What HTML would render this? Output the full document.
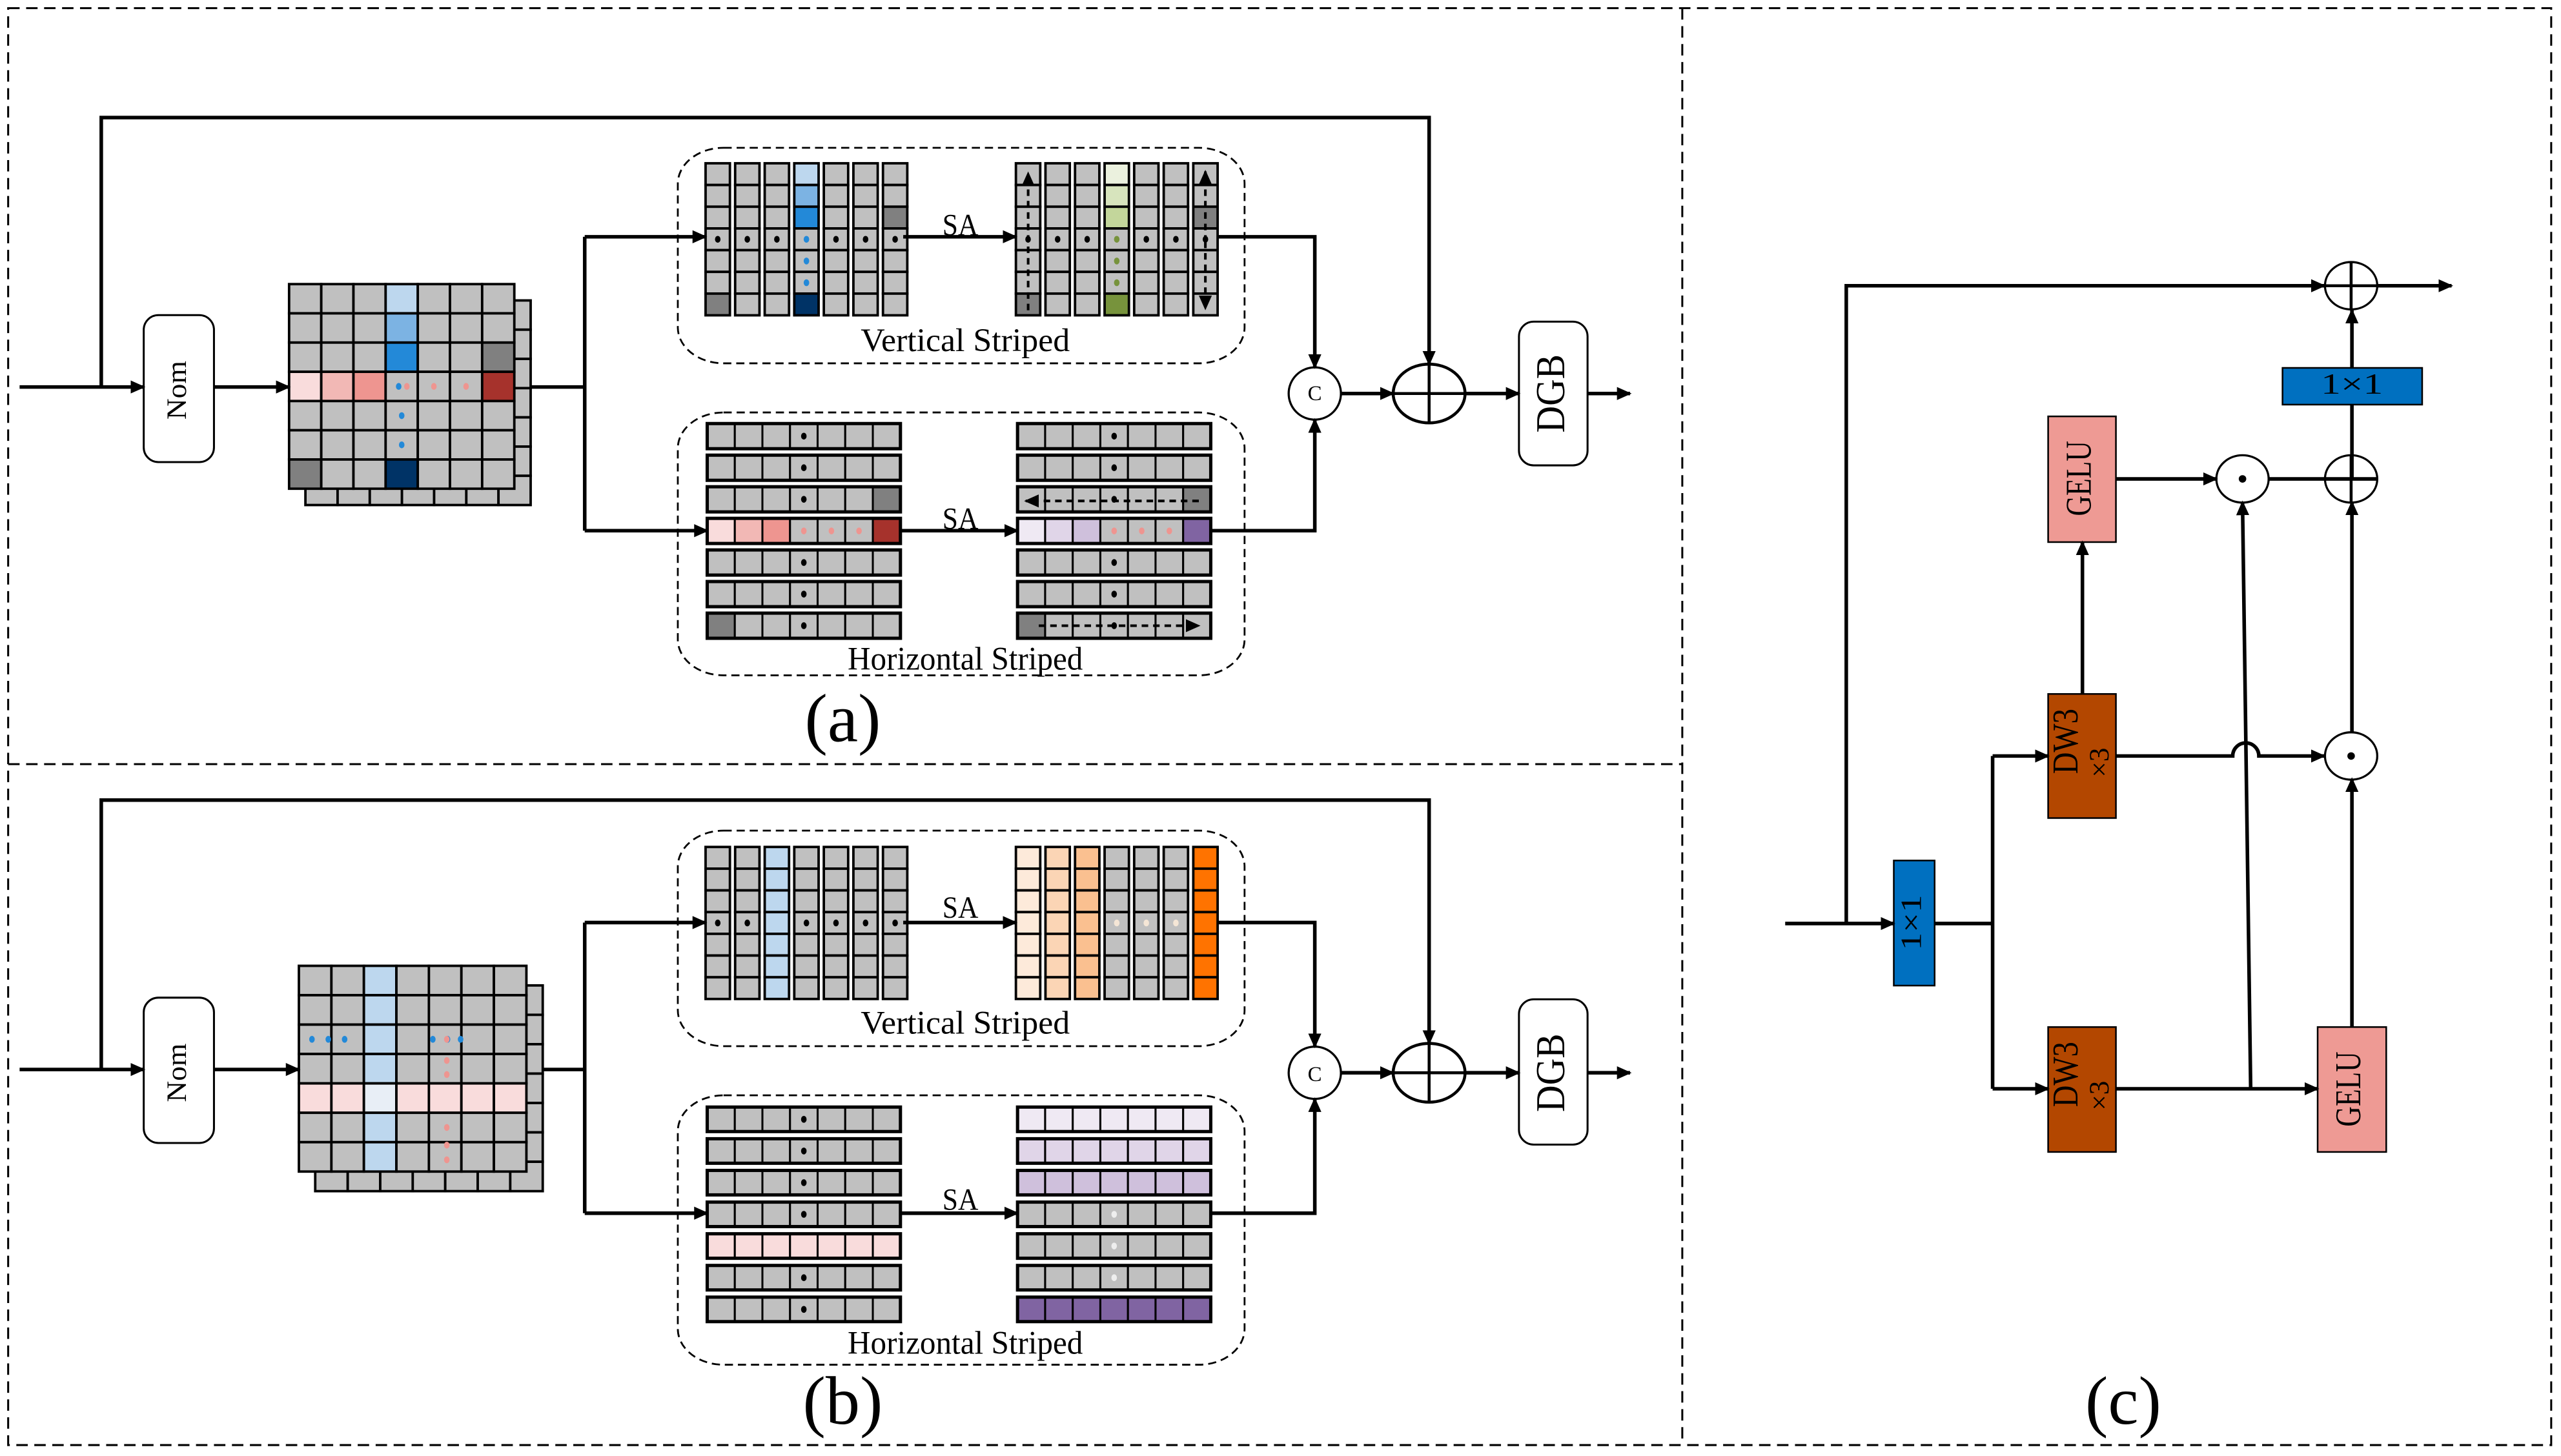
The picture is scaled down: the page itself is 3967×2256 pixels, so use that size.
<!DOCTYPE html>
<html><head><meta charset="utf-8"><style>
html,body{margin:0;padding:0;background:#fff;}
svg{display:block;}
text{font-family:"Liberation Serif",serif;fill:#000;}
</style></head><body>
<svg id="s" xmlns="http://www.w3.org/2000/svg" width="3967" height="2256" viewBox="0 0 1568 891.7" preserveAspectRatio="none">
<defs>
<marker id="ah" markerWidth="10" markerHeight="10" refX="8" refY="4" orient="auto" markerUnits="userSpaceOnUse"><path d="M0,0 L9,4 L0,8 z" fill="#000"/></marker>
</defs>
<g id="shapes"></g>
<g fill="none" stroke="#000" stroke-width="1.2" stroke-dasharray="7,4">
<rect x="5" y="5" width="1557" height="880"/>
<line x1="1030" y1="5" x2="1030" y2="885"/>
<line x1="5" y1="468" x2="1030" y2="468"/>
</g>
<g id="lines" fill="none" stroke="#000" stroke-width="2.2"></g>
<text x="110" y="239" font-size="17" text-anchor="middle" dominant-baseline="middle" textLength="36" lengthAdjust="spacingAndGlyphs" transform="rotate(-90 110 239)">Nom</text>
<text x="110" y="657" font-size="17" text-anchor="middle" dominant-baseline="middle" textLength="36" lengthAdjust="spacingAndGlyphs" transform="rotate(-90 110 657)">Nom</text>
<text x="952" y="241" font-size="25" text-anchor="middle" dominant-baseline="middle" textLength="48" lengthAdjust="spacingAndGlyphs" transform="rotate(-90 952 241)">DGB</text>
<text x="952" y="657" font-size="25" text-anchor="middle" dominant-baseline="middle" textLength="48" lengthAdjust="spacingAndGlyphs" transform="rotate(-90 952 657)">DGB</text>
<text x="588" y="144" font-size="19" text-anchor="middle" textLength="22" lengthAdjust="spacingAndGlyphs">SA</text>
<text x="588" y="324" font-size="19" text-anchor="middle" textLength="22" lengthAdjust="spacingAndGlyphs">SA</text>
<text x="588" y="562" font-size="19" text-anchor="middle" textLength="22" lengthAdjust="spacingAndGlyphs">SA</text>
<text x="588" y="741" font-size="19" text-anchor="middle" textLength="22" lengthAdjust="spacingAndGlyphs">SA</text>
<text x="591" y="215" font-size="20" text-anchor="middle" textLength="128" lengthAdjust="spacingAndGlyphs">Vertical Striped</text>
<text x="591" y="410" font-size="20" text-anchor="middle" textLength="144" lengthAdjust="spacingAndGlyphs">Horizontal Striped</text>
<text x="591" y="633" font-size="20" text-anchor="middle" textLength="128" lengthAdjust="spacingAndGlyphs">Vertical Striped</text>
<text x="591" y="829" font-size="20" text-anchor="middle" textLength="144" lengthAdjust="spacingAndGlyphs">Horizontal Striped</text>
<text x="805" y="245" font-size="13" text-anchor="middle">C</text>
<text x="805" y="662" font-size="13" text-anchor="middle">C</text>
<text x="516" y="454" font-size="42" text-anchor="middle">(a)</text>
<text x="516" y="872" font-size="42" text-anchor="middle">(b)</text>
<text x="1300" y="872" font-size="42" text-anchor="middle">(c)</text>
<text x="1275" y="293" font-size="22" text-anchor="middle" dominant-baseline="middle" textLength="46" lengthAdjust="spacingAndGlyphs" transform="rotate(-90 1275 293)">GELU</text>
<text x="1440" y="667" font-size="22" text-anchor="middle" dominant-baseline="middle" textLength="46" lengthAdjust="spacingAndGlyphs" transform="rotate(-90 1440 667)">GELU</text>
<text x="1267" y="454" font-size="22" text-anchor="middle" dominant-baseline="middle" textLength="40" lengthAdjust="spacingAndGlyphs" transform="rotate(-90 1267 454)">DW3</text>
<text x="1287" y="467" font-size="17" text-anchor="middle" dominant-baseline="middle" transform="rotate(-90 1287 467)">×3</text>
<text x="1267" y="658" font-size="22" text-anchor="middle" dominant-baseline="middle" textLength="40" lengthAdjust="spacingAndGlyphs" transform="rotate(-90 1267 658)">DW3</text>
<text x="1287" y="671" font-size="17" text-anchor="middle" dominant-baseline="middle" transform="rotate(-90 1287 671)">×3</text>
<text x="1172" y="565" font-size="18" text-anchor="middle" dominant-baseline="middle" textLength="34" lengthAdjust="spacingAndGlyphs" transform="rotate(-90 1172 565)">1×1</text>
<text x="1440" y="237" font-size="18" text-anchor="middle" dominant-baseline="middle" textLength="38" lengthAdjust="spacingAndGlyphs">1×1</text>
</svg>
<script>
(function(){
var NS="http://www.w3.org/2000/svg";
var S=document.getElementById("shapes"), L=document.getElementById("lines");
function el(p,t,a){var e=document.createElementNS(NS,t);for(var k in a)e.setAttribute(k,a[k]);p.appendChild(e);return e;}
function rect(x,y,w,h,f,sw){el(S,"rect",{x:x,y:y,width:w,height:h,fill:f,stroke:"#000","stroke-width":sw||1.5});}
function dot(x,y,c){el(S,"ellipse",{cx:x,cy:y,rx:1.7,ry:2.1,fill:c});}
function line(pts,arrow,sw,dash){var a={points:pts,fill:"none",stroke:"#000","stroke-width":sw||2.2};if(arrow)a["marker-end"]="url(#ah)";if(dash)a["stroke-dasharray"]=dash;el(L,"polyline",a);}
var G="#c0c0c0",DG="#808080";
function grid(x0,y0,cw,ch,ox,oy,fn){
 for(var r=0;r<7;r++)for(var c=0;c<7;c++)rect(x0+ox+c*cw,y0+oy+r*ch,cw,ch,G);
 for(var r=0;r<7;r++)for(var c=0;c<7;c++)rect(x0+c*cw,y0+r*ch,cw,ch,fn(r,c));
}
var ca={};
ca["0,3"]="#bdd7ee";ca["1,3"]="#7cb3e3";ca["2,3"]="#2389d8";ca["2,6"]=DG;
ca["3,0"]="#f9dcdc";ca["3,1"]="#f2b8b5";ca["3,2"]="#ee9590";ca["3,6"]="#a6322c";
ca["6,0"]=DG;ca["6,3"]="#003366";
grid(177,174,19.7,17.9,10,10,function(r,c){return ca[r+","+c]||G;});
var ax=177,ay=174,aw=19.7,ah=17.9;
dot(ax+3*aw+8,ay+3.5*ah,"#2389d8");dot(ax+3*aw+13,ay+3.5*ah,"#ee9590");
dot(ax+4.5*aw,ay+3.5*ah,"#ee9590");dot(ax+5.5*aw,ay+3.5*ah,"#ee9590");
dot(ax+3.5*aw,ay+4.5*ah,"#2389d8");dot(ax+3.5*aw,ay+5.5*ah,"#2389d8");
grid(183,591.5,19.9,18,10,12,function(r,c){if(c==2&&r==4)return "#e8eef6";if(c==2)return "#bdd7ee";if(r==4)return "#f9dcdc";return G;});
var bx=183,by=591.5,bw=19.9,bh=18;
[bx+8,bx+18,bx+28,bx+82,bx+91,bx+99].forEach(function(x){dot(x,by+2.5*bh,"#2389d8");});
[by+2.5*bh,by+3*bh+4,by+3.7*bh,by+5.5*bh,by+6.1*bh,by+6.6*bh].forEach(function(y){dot(bx+4.5*bw+1,y,"#ee9590");});
function vset(x0,y0,rh,fn,dotfn){
 for(var c=0;c<7;c++)for(var r=0;r<7;r++){rect(x0+c*18.1,y0+r*rh,14.9,rh,fn(r,c));}
 for(var c=0;c<7;c++)for(var r=0;r<7;r++){var d=dotfn(r,c);if(d)dot(x0+c*18.1+7.45,y0+(r+.5)*rh,d);}
}
vset(432,100,13.3,function(r,c){if(c==3)return ["#bdd7ee","#7cb3e3","#2389d8",G,G,G,"#003366"][r];if(c==6&&r==2)return DG;if(c==0&&r==6)return DG;return G;},
 function(r,c){if(c==3&&r>=3&&r<=5)return "#2389d8";if(r==3)return "#000";return null;});
vset(622,100,13.3,function(r,c){if(c==3)return ["#ebf1de","#d7e4bd","#c3d69b",G,G,G,"#77933c"][r];if(c==6&&r==2)return DG;if(c==0&&r==6)return DG;return G;},
 function(r,c){if(c==3&&r>=3&&r<=5)return "#77933c";if(r==3)return "#000";return null;});
vset(432,518.7,13.3,function(r,c){return c==2?"#bdd7ee":G;},function(r,c){return (r==3&&c!=2)?"#000":null;});
vset(622,518.7,13.3,function(r,c){return ["#fdeada","#fbd5b5","#fac090",G,G,G,"#ff7300"][c];},function(r,c){return (r==3&&c>=3&&c<=5)?"#f5e6d6":null;});
function hset(x0,y0,pitch,bhh,fn,dotfn){
 for(var i=0;i<7;i++){for(var c=0;c<7;c++)rect(x0+c*16.9,y0+i*pitch,16.9,bhh,fn(i,c),1.2);
  el(S,"rect",{x:x0,y:y0+i*pitch,width:118.3,height:bhh,fill:"none",stroke:"#000","stroke-width":2});
  for(var c=0;c<7;c++){var d=dotfn(i,c);if(d)dot(x0+(c+.5)*16.9,y0+i*pitch+bhh/2,d);}}
}
hset(433,259.4,19.35,15.4,function(i,c){if(i==3)return ["#f9dcdc","#f2b8b5","#ee9590",G,G,G,"#a6322c"][c];if(i==2&&c==6)return DG;if(i==6&&c==0)return DG;return G;},
 function(i,c){if(i==3&&c>=3&&c<=5)return "#ee9590";if(i!=3&&c==3)return "#000";return null;});
hset(623,259.4,19.35,15.4,function(i,c){if(i==3)return ["#efe9f3","#e0d5e8","#cfc0dc",G,G,G,"#8064a2"][c];if(i==2&&c==6)return DG;if(i==6&&c==0)return DG;return G;},
 function(i,c){if(i==3&&c>=3&&c<=5)return "#ee9590";if(i!=3&&c==3)return "#000";return null;});
hset(433,678,19.4,15,function(i,c){return i==4?"#f9dcdc":G;},function(i,c){return (i!=4&&c==3)?"#000":null;});
hset(623,678,19.4,15,function(i,c){return ["#efe9f3","#e0d5e8","#cfc0dc",G,G,G,"#8064a2"][i];},function(i,c){return (i>=3&&i<=5&&c==3)?"#eeeeee":null;});
[[415,90.5,347,132],[415,252.6,347,161],[415,508.7,347,132],[415,670.8,347,165]].forEach(function(b){
 el(S,"rect",{x:b[0],y:b[1],width:b[2],height:b[3],rx:28,ry:22,fill:"none",stroke:"#000","stroke-width":1.1,"stroke-dasharray":"5,3"});});
el(S,"rect",{x:88,y:193,width:43,height:90,rx:9,fill:"#fff",stroke:"#000","stroke-width":1.2});
el(S,"rect",{x:88,y:611,width:43,height:89,rx:9,fill:"#fff",stroke:"#000","stroke-width":1.2});
el(S,"rect",{x:930,y:197,width:42,height:88,rx:9,fill:"#fff",stroke:"#000","stroke-width":1.2});
el(S,"rect",{x:930,y:612,width:42,height:89,rx:9,fill:"#fff",stroke:"#000","stroke-width":1.2});
[[237,72,241,145,325],[655,490,657,565,743]].forEach(function(p){
 var y=p[0],top=p[1],cy=p[2],vy=p[3],hy=p[4];
 line("12,"+y+" 88,"+y,true);
 line("62,"+y+" 62,"+top+" 875,"+top+" 875,"+(cy-18),true);
 line("131,"+y+" "+(y==237?177:183)+","+y,true);
 line((y==237?325:332)+","+y+" 358,"+y);
 line("358,"+vy+" 358,"+hy);
 line("358,"+vy+" 432,"+vy,true);
 line("358,"+hy+" 433,"+hy,true);
 line("553,"+vy+" 622,"+vy,true);
 line("551,"+hy+" 623,"+hy,true);
 line("745,"+vy+" 805,"+vy+" 805,"+(cy-16),true);
 line("741,"+hy+" 805,"+hy+" 805,"+(cy+16),true);
 line("821,"+cy+" 853,"+cy,true);
 line("897,"+cy+" 930,"+cy,true);
 line("972,"+cy+" 998,"+cy,true);
 el(S,"circle",{cx:805,cy:cy,r:16,fill:"#fff",stroke:"#000","stroke-width":1.3});
 el(S,"ellipse",{cx:875,cy:cy,rx:22,ry:18,fill:"none",stroke:"#000","stroke-width":1.8});
 line("853,"+cy+" 897,"+cy,false,1.8);line("875,"+(cy-18)+" 875,"+(cy+18),false,1.8);
});
line("629.5,190 629.5,106",true,1.6,"4,3");
line("738,148 738,105",true,1.6,"4,3");line("738,148 738,189",true,1.6,"4,3");
line("734,306.8 628,306.8",true,1.6,"4,3");
line("636,383.2 734,383.2",true,1.6,"4,3");
rect(1159.5,527,25,76.6,"#0070c0",1);
rect(1397.5,225.3,85.5,22.5,"#0070c0",1);
rect(1254,425,41.5,76,"#b34700",1);
rect(1254,629,41.5,76.5,"#b34700",1);
rect(1254,255,41.5,77,"#ee9a94",1);
rect(1419,629,42,76.5,"#ee9a94",1);
line("1093,565.6 1159.5,565.6",true);
line("1130.4,565.6 1130.4,175 1423,175",true);
line("1456,175 1501,175",true);
line("1184.5,565.6 1220,565.6");
line("1220,463 1220,666.8");
line("1220,463 1254,463",true);line("1220,666.8 1254,666.8",true);
line("1275,425 1275,332",true);
line("1295.5,293.3 1357,293.3",true);
line("1389,293.3 1456,293.3");
line("1440,293.3 1440,247.8");
line("1440,225.3 1440,190",true);
el(L,"path",{d:"M1295.5,463 L1367,463 A8,8 0 0 1 1383,463 L1423,463",fill:"none",stroke:"#000","stroke-width":2.2,"marker-end":"url(#ah)"});
line("1295.5,666.8 1419,666.8",true);
line("1440,629 1440,477",true);
line("1378,666.8 1373,307.5",true);
line("1440,449 1440,307.5",true);
function circ(cx,cy,t){el(S,"ellipse",{cx:cx,cy:cy,rx:16,ry:14.5,fill:"#fff",stroke:"#000","stroke-width":1.3});
 if(t=="plus"){el(L,"line",{x1:cx-16,y1:cy,x2:cx+16,y2:cy,stroke:"#000","stroke-width":1.8});el(L,"line",{x1:cx,y1:cy-14.5,x2:cx,y2:cy+14.5,stroke:"#000","stroke-width":1.8});}
 else el(S,"circle",{cx:cx,cy:cy,r:2.3,fill:"#000"});}
circ(1439.5,175,"plus");circ(1439.5,293.3,"plus");circ(1373,293.3,"dot");circ(1439.5,463,"dot");
})();
</script>
</body></html>
